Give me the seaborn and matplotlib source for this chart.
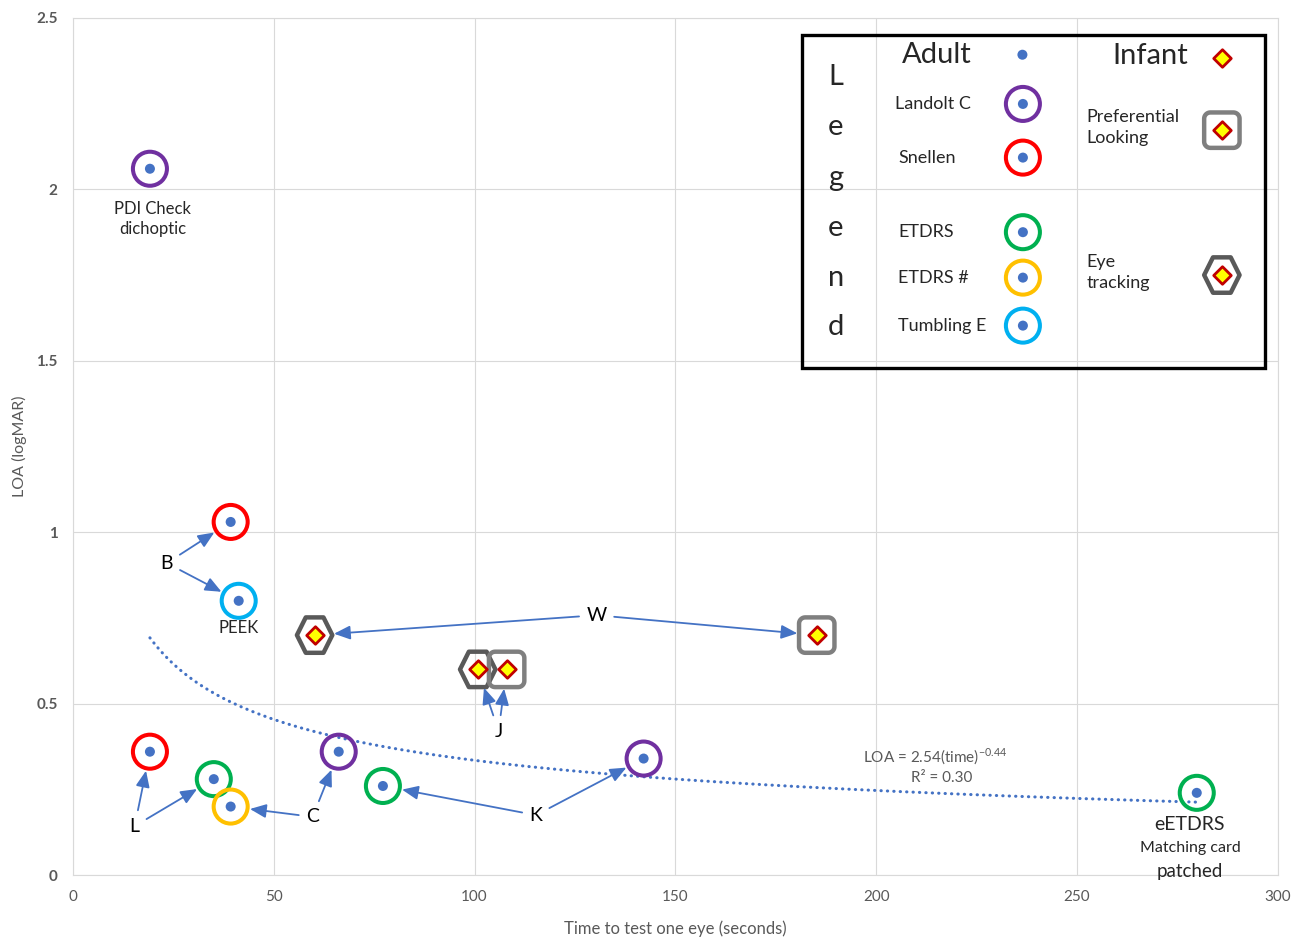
import numpy as np
import pandas as pd
import matplotlib.pyplot as plt
from matplotlib.path import Path
from matplotlib.patches import Rectangle
import seaborn as sns

# Adult tests: blue dot inside a coloured ring (ring colour = test type)
adult_time  = [19.2, 39.3, 41.3, 19.2, 35.1, 39.3, 66.2, 77.2, 142.1, 279.8]
adult_loa   = [2.06, 1.03, 0.80, 0.36, 0.28, 0.20, 0.36, 0.26, 0.34, 0.24]
adult_test  = ['Landolt C', 'Snellen', 'Tumbling E', 'Snellen', 'ETDRS', 'ETDRS #',
               'Landolt C', 'ETDRS', 'Landolt C', 'ETDRS']
adult_study = ['PDI', 'B', 'B', 'L', 'L', 'C', 'C', 'K', 'K', 'eETDRS']

# Infant tests: diamond inside hexagon (eye tracking) or rounded square (PL)
infant_time  = [60.2, 185.2, 100.8, 108.0]
infant_loa   = [0.70, 0.70, 0.60, 0.60]
infant_test  = ['Eye tracking', 'Preferential Looking', 'Eye tracking', 'Preferential Looking']
infant_study = ['W', 'W', 'J', 'J']

# power trendline printed on the chart
fit_a, fit_b, fit_r2 = 2.54, -0.44, 0.30

ring_colors = {'Landolt C': '#7030A0', 'Snellen': '#FF0000', 'ETDRS': '#00B050',
               'ETDRS #': '#FFC000', 'Tumbling E': '#00B0F0'}
BLUE = '#4472C4'
GREY = '#595959'


def rounded_square(r=0.35, n=10):
    verts = []
    for cx, cy, a0 in [(1 - r, 1 - r, 0), (-1 + r, 1 - r, 90),
                       (-1 + r, -1 + r, 180), (1 - r, -1 + r, 270)]:
        ang = np.radians(np.linspace(a0, a0 + 90, n))
        verts += list(zip(cx + r * np.cos(ang), cy + r * np.sin(ang)))
    verts.append(verts[0])
    return Path(verts, closed=True)


HEX = Path([(-1, 0), (-0.5, 1), (0.5, 1), (1, 0), (0.5, -1), (-0.5, -1), (-1, 0)], closed=True)
RSQ = rounded_square()
infant_shape = {'Eye tracking': (HEX, '#595959'), 'Preferential Looking': (RSQ, '#7F7F7F')}

df_a = pd.DataFrame({'time': adult_time, 'loa': adult_loa, 'test': adult_test, 'study': adult_study})
df_i = pd.DataFrame({'time': infant_time, 'loa': infant_loa, 'test': infant_test, 'study': infant_study})

sns.set_style('whitegrid', {'grid.color': '#d9d9d9', 'axes.edgecolor': '#d9d9d9'})
plt.rcParams['font.family'] = ['Lato', 'DejaVu Sans']
plt.rcParams['mathtext.fontset'] = 'custom'
plt.rcParams['mathtext.rm'] = 'Lato'

fig = plt.figure(figsize=(13, 9.4), dpi=100)
ax = fig.add_axes([0.056, 0.069, 0.927, 0.912])

# trendline
fit_t = np.linspace(min(adult_time), max(adult_time), 200)
sns.lineplot(x=fit_t, y=fit_a * fit_t ** fit_b, ax=ax, color=BLUE, lw=2.2,
             linestyle=(0, (0.1, 2.0)), dash_capstyle='round', zorder=2)

# adult rings + dots
for test, col in ring_colors.items():
    sub = df_a[df_a.test == test]
    sns.scatterplot(data=sub, x='time', y='loa', ax=ax, marker='o', s=600,
                    facecolor='none', edgecolor=col, linewidth=2.9, zorder=3)
sns.scatterplot(data=df_a, x='time', y='loa', ax=ax, color=BLUE, s=52,
                edgecolor='none', zorder=4)

# infant shapes + diamonds
for test, (mk, col) in infant_shape.items():
    sub = df_i[df_i.test == test]
    sns.scatterplot(data=sub, x='time', y='loa', ax=ax, marker=mk, s=650,
                    facecolor='none', edgecolor=col, linewidth=3.2, zorder=3)
sns.scatterplot(data=df_i, x='time', y='loa', ax=ax, marker='D', s=80,
                color='#FFFF00', edgecolor='#C00000', linewidth=2.0, zorder=4)

# study letters with arrows
arrow = dict(arrowstyle='-|>,head_length=0.7,head_width=0.3', color=BLUE, lw=1.3,
             shrinkA=3, shrinkB=14)
label_pos = {'B': (23.4, 0.91), 'L': (15.4, 0.143), 'C': (59.7, 0.17),
             'K': (115.3, 0.175), 'W': (130.4, 0.758), 'J': (106.0, 0.42)}
all_pts = list(zip(adult_time + infant_time, adult_loa + infant_loa, adult_study + infant_study))
for letter, pos in label_pos.items():
    first = True
    for t, l, s in all_pts:
        if s != letter:
            continue
        ax.annotate(letter, xy=(t, l), xytext=pos, fontsize=14, ha='center', va='center',
                    color='black' if first else 'none', arrowprops=arrow, zorder=5)
        first = False

ax.text(19.9, 1.913, 'PDI Check\ndichoptic', fontsize=12, ha='center', va='center', linespacing=1.35)
ax.text(41.3, 0.72, 'PEEK', fontsize=12, ha='center', va='center')
ax.text(278.1, 0.149, 'eETDRS', fontsize=14, ha='center', va='center')
ax.text(278.1, 0.079, 'Matching card', fontsize=11.5, ha='center', va='center')
ax.text(278.1, 0.012, 'patched', fontsize=13.5, ha='center', va='center', clip_on=False)
ax.text(214.6, 0.344, f'LOA = {fit_a}(time)$^{{\\mathregular{{{fit_b}}}}}$',
        fontsize=11, color=GREY, ha='center', va='center')
ax.text(216.3, 0.283, f'R\u00b2 = {fit_r2:.2f}', fontsize=11, color=GREY, ha='center', va='center')

# hand-made legend box
tr = ax.transAxes
ax.add_patch(Rectangle((0.605, 0.5916), 0.384, 0.388, transform=tr, fill=False,
                       ec='black', lw=2.4, zorder=6, clip_on=False))
for ch, yy in zip('Legend', [0.931, 0.873, 0.813, 0.755, 0.697, 0.639]):
    ax.text(0.633, yy, ch, transform=tr, fontsize=21, ha='center', va='center')
ax.text(0.717, 0.957, 'Adult', transform=tr, fontsize=21, ha='center', va='center')
ax.text(0.894, 0.955, 'Infant', transform=tr, fontsize=21, ha='center', va='center')
ax.scatter([0.788], [0.957], transform=tr, s=52, color=BLUE, edgecolor='none', clip_on=False, zorder=7)
ax.scatter([0.9535], [0.953], transform=tr, marker='D', s=80, color='#FFFF00',
           edgecolor='#C00000', linewidth=2.0, clip_on=False, zorder=7)

leg_rows = [('Landolt C', 0.682, 0.8996), ('Snellen', 0.685, 0.837),
            ('ETDRS', 0.685, 0.750), ('ETDRS #', 0.685, 0.697), ('Tumbling E', 0.685, 0.641)]
for name, tx, ty in leg_rows:
    ax.text(tx, ty, name, transform=tr, fontsize=13, ha='left', va='center')
    ax.scatter([0.7884], [ty], transform=tr, s=600, facecolor='none',
               edgecolor=ring_colors[name], linewidth=2.9, clip_on=False, zorder=7)
    ax.scatter([0.7884], [ty], transform=tr, s=52, color=BLUE, edgecolor='none',
               clip_on=False, zorder=8)

for name, label, ty in [('Preferential Looking', 'Preferential\nLooking', 0.869),
                        ('Eye tracking', 'Eye\ntracking', 0.700)]:
    mk, col = infant_shape[name]
    ax.text(0.841, ty + 0.003, label, transform=tr, fontsize=13, ha='left', va='center', linespacing=1.4)
    ax.scatter([0.9535], [ty], transform=tr, marker=mk, s=650, facecolor='none',
               edgecolor=col, linewidth=3.2, clip_on=False, zorder=7)
    ax.scatter([0.9535], [ty], transform=tr, marker='D', s=80, color='#FFFF00',
               edgecolor='#C00000', linewidth=2.0, clip_on=False, zorder=8)

# axes
ax.set_xlim(0, 300)
ax.set_ylim(0, 2.5)
ax.set_xticks(range(0, 301, 50))
ax.set_yticks([0, 0.5, 1, 1.5, 2, 2.5])
ax.set_yticklabels(['0', '0.5', '1', '1.5', '2', '2.5'], fontweight='bold')
ax.tick_params(axis='both', colors=GREY, labelsize=11, length=0)
ax.tick_params(axis='x', pad=11)
ax.tick_params(axis='y', pad=11)
ax.set_xlabel('Time to test one eye (seconds)', fontsize=12, color=GREY)
ax.set_ylabel('LOA (logMAR)', fontsize=11.5, color=GREY)
ax.xaxis.set_label_coords(0.5, -0.053)
ax.yaxis.set_label_coords(-0.038, 0.5)

plt.savefig('out.png', dpi=100)
